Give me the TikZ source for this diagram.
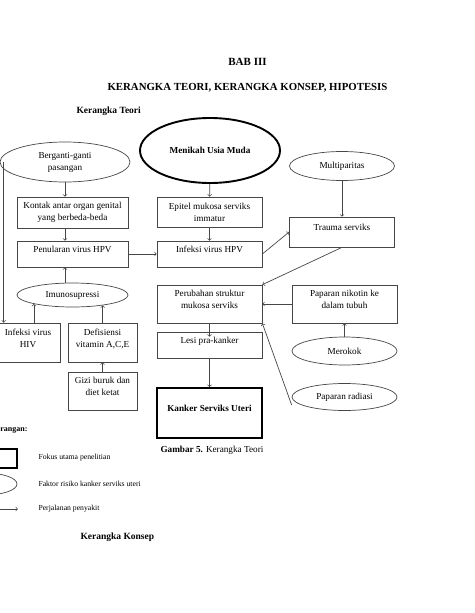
\documentclass[tikz,border=0pt]{standalone}
\usepackage{fontspec}
\setmainfont{Liberation Serif}
\usetikzlibrary{shapes.geometric}
\definecolor{linegray}{RGB}{70,70,70}

\tikzset{
  box/.style={draw=linegray,line width=0.7pt,align=center,inner sep=2pt,font=\fontsize{9.2}{12}\selectfont},
  upbox/.style={box,text depth=9pt},
  risk/.style={ellipse,draw=linegray,line width=0.7pt,align=center,inner sep=0pt,font=\fontsize{9.2}{12}\selectfont},
  focus/.style={draw=black,line width=1.9pt},
  flow/.style={->,draw=linegray,line width=0.7pt},
  legendtext/.style={anchor=west,font=\fontsize{7.7}{9}\selectfont},
  heading/.style={anchor=west,font=\bfseries\fontsize{9.5}{11}\selectfont}
}

\begin{document}
\begin{tikzpicture}[x=1pt,y=1pt]
\useasboundingbox (0,0) rectangle (474,-613);

\node[font=\bfseries\fontsize{11}{13}\selectfont] (bab) at (247.5,-62) {BAB III};
\node[font=\bfseries\fontsize{10.8}{13}\selectfont] (judul) at (247.5,-88) {KERANGKA TEORI, KERANGKA KONSEP, HIPOTESIS};
\node[heading] (kteori) at (73,-111) {Kerangka Teori};

\node[risk,minimum width=130pt,minimum height=40pt] (bg) at (65,-162) {Berganti-ganti\\pasangan};
\node[box,minimum width=111pt,minimum height=31pt] (kt) at (72.5,-212.5) {Kontak antar organ genital\\yang berbeda-beda};
\node[upbox,below of=kt,node distance=41.5pt,minimum width=111pt,minimum height=26pt] (pv) {Penularan virus HPV};
\node[risk,below of=pv,node distance=41pt,minimum width=111pt,minimum height=24pt] (im) {Imunosupressi};
\node[upbox,minimum width=64pt,minimum height=39pt] (hiv) at (28,-342.5) {Infeksi virus\\HIV};
\node[upbox,right of=hiv,node distance=74.5pt,minimum width=69pt,minimum height=39pt] (vit) {Defisiensi\\vitamin A,C,E};
\node[upbox,below of=vit,node distance=48.5pt,minimum width=69pt,minimum height=38pt] (gz) {Gizi buruk dan\\diet ketat};

\node[ellipse,focus,minimum width=140pt,minimum height=65pt,inner sep=0pt,font=\bfseries\fontsize{9.2}{12}\selectfont] (mu) at (210,-150.5) {Menikah Usia Muda};
\node[box,minimum width=105pt,minimum height=30pt] (ep) at (209.5,-212) {Epitel mukosa serviks\\immatur};
\node[upbox,below of=ep,node distance=42pt,minimum width=105pt,minimum height=26pt] (ih) {Infeksi virus HPV};
\node[upbox,below of=ih,node distance=50pt,minimum width=105pt,minimum height=38pt] (ps) {Perubahan struktur\\mukosa serviks};
\node[upbox,below of=ps,node distance=41pt,minimum width=105pt,minimum height=26pt] (lk) {Lesi pra-kanker};
\node[upbox,focus,below of=lk,node distance=68pt,minimum width=105pt,minimum height=50pt,font=\bfseries\fontsize{9.2}{12}\selectfont] (ks) {Kanker Serviks Uteri};

\node[risk,minimum width=105pt,minimum height=29pt] (mp) at (342,-166) {Multiparitas};
\node[upbox,below of=mp,node distance=66pt,minimum width=105pt,minimum height=30pt] (ts) {Trauma serviks};
\node[upbox,minimum width=105pt,minimum height=38pt] (pn) at (344.5,-304) {Paparan nikotin ke\\dalam tubuh};
\node[risk,below of=pn,node distance=47pt,minimum width=105pt,minimum height=28pt] (mr) {Merokok};
\node[risk,below of=mr,node distance=46pt,minimum width=105pt,minimum height=27pt] (pr) {Paparan radiasi};

\draw[flow] (bg.south) -- (kt.north -| bg.south);
\draw[flow] (kt.south -| bg.south) -- (pv.north -| bg.south);
\draw[flow] (im.north -| bg.south) -- (pv.south -| bg.south);
\draw[flow] (pv) -- (ih);
\draw[flow] ([xshift=4pt]bg.west) -- ([xshift=4pt]bg.west |- hiv.north);
\draw[flow] (hiv.north -| im.193) -- (im.193);
\draw[flow] (vit.north -| im.-19) -- (im.-19);
\draw[flow] (gz) -- (vit);
\draw[flow] (mu) -- (ep);
\draw[flow] (ep) -- (ih);
\draw[flow] (ih.east) -- (ts.west);
\draw[flow] (mp) -- (ts);
\draw[flow] (ts.south) -- (ps.north east);
\draw[flow] (pn.west) -- (ps.east);
\draw[flow] (mr) -- (pn);
\draw[flow] ([yshift=-8pt]pr.west) -- (ps.south east);
\draw[flow] (ps) -- ([yshift=-5pt]lk.north);
\draw[flow] (lk) -- (ks);

\node[anchor=west,font=\fontsize{9.2}{12}\selectfont] (cap) at (157,-450) {\textbf{Gambar 5.} Kerangka Teori};

\node[anchor=east,font=\bfseries\fontsize{8}{10}\selectfont] (ket) at (31,-430) {Keterangan:};
\node[focus,minimum width=40pt,minimum height=19pt] (lgk) at (-3,-458.5) {};
\node[legendtext] (lgkt) at (35,-458) {Fokus utama penelitian};
\node[risk,minimum width=64pt,minimum height=22pt] (lge) at (-15,-484) {};
\node[legendtext] (lget) at (35,-484) {Faktor risiko kanker serviks uteri};
\coordinate (lga) at (-10,-509);
\node[legendtext] (lgat) at (35,-509) {Perjalanan penyakit};
\draw[flow] (lga) -- (lga -| lgk.east);

\node[heading] (kkonsep) at (77,-537) {Kerangka Konsep};
\end{tikzpicture}
\end{document}
